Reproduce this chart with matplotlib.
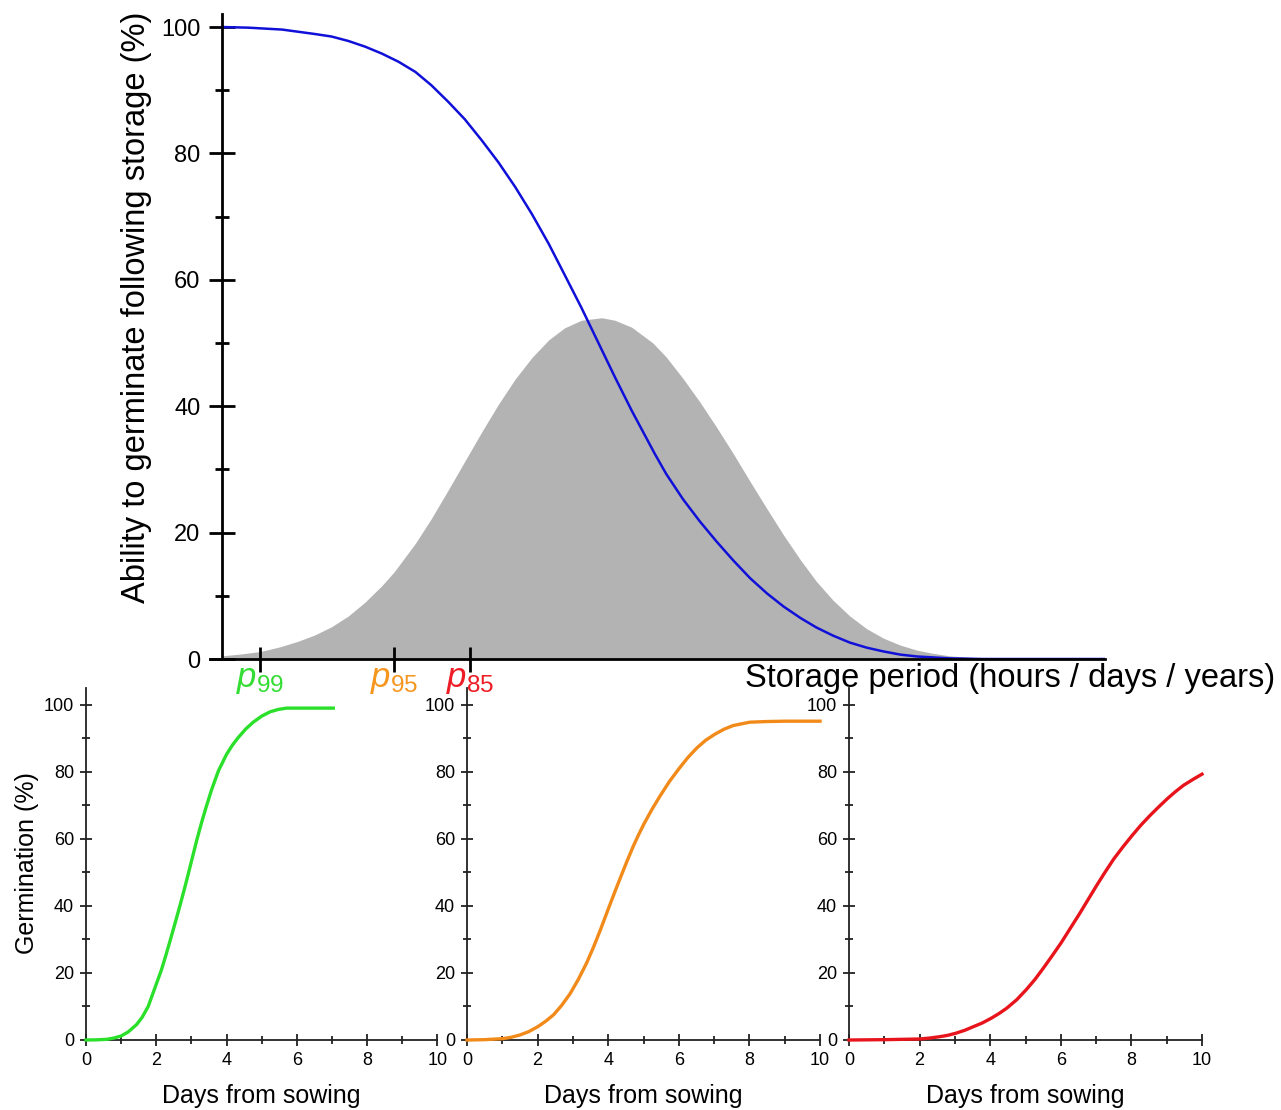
import matplotlib
matplotlib.use('Agg')
import matplotlib.pyplot as plt
from matplotlib.ticker import MultipleLocator, FixedLocator, NullFormatter

plt.rcParams['font.family'] = ['Liberation Sans', 'DejaVu Sans']
plt.rcParams['mathtext.fontset'] = 'custom'
plt.rcParams['mathtext.it'] = 'Liberation Sans:italic'
plt.rcParams['mathtext.rm'] = 'Liberation Sans'

# ---------------- data ----------------
# main panel: storage period (arbitrary units 0-10)
blue_x = [0.0, 0.30, 0.68, 1.05, 1.24, 1.43, 1.62, 1.81, 2.00, 2.19, 2.37, 2.56, 2.75,
          2.94, 3.13, 3.32, 3.51, 3.70, 3.88, 4.07, 4.26, 4.45, 4.64, 4.90, 5.03, 5.22,
          5.41, 5.60, 5.79, 5.98, 6.17, 6.36, 6.55, 6.73, 6.92, 7.11, 7.30, 7.49, 7.68,
          7.87, 8.24, 8.62, 10.0]
blue_y = [100.0, 99.9, 99.6, 98.9, 98.5, 97.8, 96.9, 95.8, 94.5, 92.9, 90.8, 88.2, 85.4,
          82.1, 78.6, 74.7, 70.4, 65.7, 60.8, 55.6, 50.1, 44.6, 39.3, 32.5, 29.3, 25.3,
          21.8, 18.6, 15.6, 12.8, 10.4, 8.3, 6.5, 5.0, 3.7, 2.6, 1.8, 1.2, 0.7,
          0.4, 0.1, 0.0, 0.0]

gray_x = [0.0, 0.22, 0.44, 0.65, 0.86, 1.05, 1.24, 1.43, 1.62, 1.81, 1.95, 2.19, 2.37,
          2.56, 2.75, 2.94, 3.13, 3.32, 3.51, 3.70, 3.88, 4.07, 4.30, 4.45, 4.64, 4.88,
          5.03, 5.22, 5.41, 5.60, 5.79, 5.98, 6.17, 6.36, 6.55, 6.73, 6.92, 7.11, 7.30,
          7.49, 7.68, 7.87, 8.05, 8.24, 8.62, 9.0, 10.0]
gray_y = [0.5, 0.8, 1.2, 1.9, 2.8, 3.8, 5.1, 6.8, 9.0, 11.6, 13.8, 18.3, 22.2,
          26.7, 31.3, 35.9, 40.3, 44.3, 47.7, 50.5, 52.4, 53.6, 54.0, 53.6, 52.5, 50.0,
          47.8, 44.4, 40.7, 36.7, 32.5, 28.1, 23.8, 19.6, 15.7, 12.3, 9.3, 6.8, 4.8,
          3.3, 2.2, 1.4, 0.9, 0.5, 0.1, 0.0, 0.0]

p_positions = [0.43, 1.95, 2.81]
p_labels = [r'$p_{\mathrm{99}}$', r'$p_{\mathrm{95}}$', r'$p_{\mathrm{85}}$']
p_colors = ['#33dd33', '#f5961e', '#ee1c24']

# lower panels: germination curves (days from sowing, %)
green_x = [0.0, 0.3, 0.59, 0.8, 1.0, 1.2, 1.44, 1.6, 1.77, 1.96, 2.15, 2.28, 2.41, 2.55,
           2.68, 2.80, 2.91, 3.03, 3.15, 3.28, 3.42, 3.58, 3.77, 4.00, 4.17, 4.34, 4.55,
           4.76, 5.0, 5.24, 5.47, 5.71, 6.2, 7.04]
green_y = [0.0, 0.05, 0.2, 0.6, 1.2, 2.4, 4.6, 6.8, 10.0, 15.5, 21.0, 25.5, 30.2, 35.4,
           40.3, 45.0, 49.5, 54.5, 59.5, 64.5, 69.5, 74.8, 80.3, 85.2, 88.0, 90.3, 92.8,
           94.8, 96.6, 97.9, 98.6, 99.0, 99.0, 99.0]

orange_x = [0.0, 0.5, 1.01, 1.25, 1.5, 1.75, 2.01, 2.23, 2.45, 2.68, 2.92, 3.15, 3.39,
            3.58, 3.77, 4.01, 4.17, 4.33, 4.52, 4.71, 4.86, 5.01, 5.24, 5.47, 5.74, 6.01,
            6.26, 6.51, 6.76, 7.02, 7.28, 7.54, 8.01, 8.5, 9.01, 10.0]
orange_y = [0.0, 0.1, 0.4, 0.8, 1.5, 2.5, 4.0, 5.6, 7.5, 10.3, 13.8, 18.0, 23.0,
            27.6, 32.6, 39.3, 43.7, 48.0, 53.0, 57.8, 61.2, 64.4, 68.8, 72.8, 77.2, 81.0,
            84.3, 87.1, 89.4, 91.2, 92.7, 93.8, 94.8, 95.0, 95.1, 95.1]

red_x = [0.0, 1.0, 2.01, 2.3, 2.58, 2.8, 3.02, 3.28, 3.53, 3.78, 4.03, 4.25, 4.47, 4.75,
         5.02, 5.27, 5.51, 5.76, 6.01, 6.28, 6.55, 6.78, 7.01, 7.25, 7.50, 7.76, 8.02,
         8.27, 8.53, 8.78, 9.02, 9.25, 9.48, 9.74, 10.0]
red_y = [0.0, 0.1, 0.3, 0.6, 1.0, 1.4, 2.0, 2.9, 4.0, 5.1, 6.5, 7.9, 9.5, 12.0,
         15.0, 18.1, 21.5, 25.2, 29.0, 33.5, 38.0, 42.0, 46.0, 50.0, 54.0, 57.6, 61.0,
         64.1, 67.0, 69.6, 72.0, 74.1, 76.0, 77.7, 79.3]

main_yticks = [0, 20, 40, 60, 80, 100]
small_yticks = [0, 20, 40, 60, 80, 100]
small_xticks = [0, 2, 4, 6, 8, 10]

# ---------------- figure ----------------
W, H = 1281, 1110
fig = plt.figure(figsize=(W / 100, H / 100), dpi=100)


def rect(l, r, b, t):
    return [l / W, 1 - b / H, (r - l) / W, (b - t) / H]


# main axes
ax = fig.add_axes(rect(210, 1105, 659, 14.4))
ax.fill_between(gray_x, gray_y, 0, color='#b3b3b3', lw=0, zorder=1)
ax.plot(blue_x, blue_y, color='#1010d8', lw=1.8, zorder=2,
        solid_joinstyle='round')
ax.set_xlim(-0.136, 10)
ax.set_ylim(0, 102)
ax.spines['top'].set_visible(False)
ax.spines['right'].set_visible(False)
ax.spines['left'].set_position(('data', 0))
for s in ('left', 'bottom'):
    ax.spines[s].set_linewidth(2.0)
ax.yaxis.set_major_locator(FixedLocator(main_yticks))
ax.yaxis.set_minor_locator(MultipleLocator(10))
ax.tick_params(axis='y', which='major', direction='inout', length=19, width=2,
               labelsize=17, pad=6)
ax.tick_params(axis='y', which='minor', direction='inout', length=9.5, width=2)
ax.xaxis.set_major_locator(FixedLocator(p_positions))
ax.xaxis.set_major_formatter(NullFormatter())
ax.tick_params(axis='x', which='major', direction='inout', length=18, width=2)
for xp, lab, col in zip(p_positions, p_labels, p_colors):
    ax.text(xp, -0.6, lab, color=col, fontsize=25, ha='center', va='top',
            clip_on=False)

fig.text(137 / W, 1 - 307 / H, 'Ability to germinate following storage (%)',
         rotation=90, fontsize=23.5, ha='center', va='center')
fig.text(1275 / W, 1 - 678 / H, 'Storage period (hours / days / years)',
         fontsize=23.5, ha='right', va='center')

# small axes
small = [
    (86, 437.3, green_x, green_y, '#2ae02a'),
    (467, 820, orange_x, orange_y, '#f28a1a'),
    (849, 1202, red_x, red_y, '#e8141c'),
]
for l, r, xs, ys, col in small:
    a = fig.add_axes(rect(l, r, 1040, 688))
    a.plot(xs, ys, color=col, lw=2.4, clip_on=False, zorder=3,
           solid_joinstyle='round')
    a.set_xlim(0, 10)
    a.set_ylim(0, 105)
    a.spines['top'].set_visible(False)
    a.spines['right'].set_visible(False)
    for s in ('left', 'bottom'):
        a.spines[s].set_linewidth(1.3)
        a.spines[s].set_color('#222222')
    a.xaxis.set_major_locator(FixedLocator(small_xticks))
    a.xaxis.set_minor_locator(MultipleLocator(1))
    a.yaxis.set_major_locator(FixedLocator(small_yticks))
    a.yaxis.set_minor_locator(MultipleLocator(10))
    a.tick_params(which='major', direction='inout', length=9, width=1.3,
                  labelsize=13, pad=4, color='#222222')
    a.tick_params(which='minor', direction='inout', length=5.5, width=1.3,
                  color='#222222')
    a.patch.set_alpha(0)
    a.text(0.5, -0.16, 'Days from sowing', transform=a.transAxes,
           fontsize=18, ha='center', va='center')

fig.text(27 / W, 1 - 863 / H, 'Germination (%)', rotation=90, fontsize=18,
         ha='center', va='center')

fig.savefig('out.png', dpi=100)
